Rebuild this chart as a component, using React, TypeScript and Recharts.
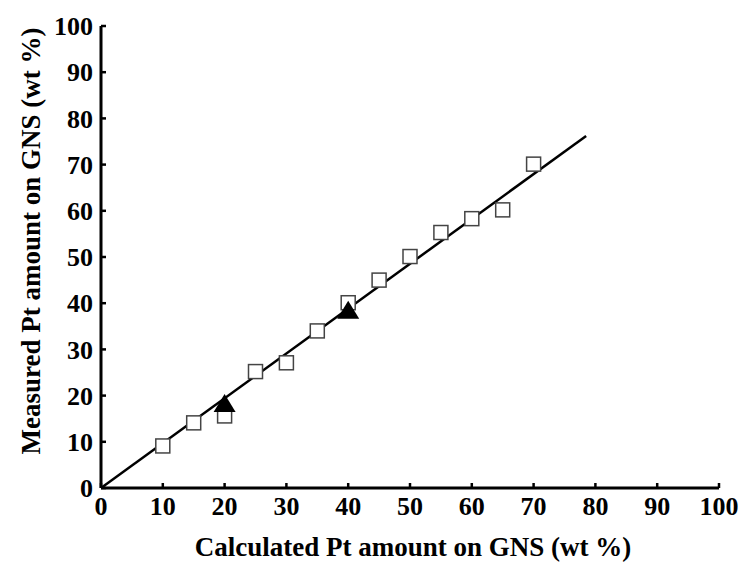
import React from 'react';
import { ScatterChart, Scatter, XAxis, YAxis, Label } from 'recharts';

const squareX = [10, 15, 20, 25, 30, 35, 40, 45, 50, 55, 60, 65, 70];
const squareY = [9.1, 14.1, 15.6, 25.2, 27.1, 34, 40.1, 45, 50.1, 55.3, 58.3, 60.2, 70.1];
const triangleX = [20, 40];
const triangleY = [18.4, 38.6];
const fitX = [0, 78.5];
const fitY = [0, 76.2];
const axisTicks = [0, 10, 20, 30, 40, 50, 60, 70, 80, 90, 100];

const squares = squareX.map((x, i) => ({ x, y: squareY[i] }));
const triangles = triangleX.map((x, i) => ({ x, y: triangleY[i] }));
const fitLine = fitX.map((x, i) => ({ x, y: fitY[i] }));

const FONT = '"Liberation Serif", "Times New Roman", serif';
const tickStyle = { fill: '#000', fontSize: 26, fontWeight: 'bold', fontFamily: FONT };
const axisLine = { stroke: '#000', strokeWidth: 3 };
const tickLine = { stroke: '#000', strokeWidth: 2.5 };

const SquareShape = (props: any) => {
    const { cx, cy } = props;
    return <rect x={cx - 7} y={cy - 7} width={14} height={14} fill="#fff" stroke="#444" strokeWidth={1.5} />;
};

const TriangleShape = (props: any) => {
    const { cx, cy } = props;
    return <polygon points={`${cx},${cy - 9} ${cx + 11},${cy + 9} ${cx - 11},${cy + 9}`} fill="#000" />;
};

const NoShape = () => <g />;

const App: React.FC = () => {
    return (
        <div style={{ position: 'absolute', left: 0, top: 0, width: 741, height: 562, background: '#fff' }}>
            <ScatterChart width={741} height={562} margin={{ top: 26, right: 22, left: 0, bottom: 0 }}>
                <XAxis
                    dataKey="x"
                    type="number"
                    domain={[0, 100]}
                    ticks={axisTicks}
                    interval={0}
                    height={74}
                    tickSize={-5}
                    tickMargin={14}
                    axisLine={axisLine}
                    tickLine={tickLine}
                    tick={tickStyle}
                >
                    <Label
                        content={(p: any) => {
                            const vb = p.viewBox;
                            return (
                                <text x={vb.x + vb.width / 2 + 3} y={556} textAnchor="middle" fontSize={27} fontWeight="bold" fontFamily={FONT} fill="#000">
                                    Calculated Pt amount on GNS (wt %)
                                </text>
                            );
                        }}
                    />
                </XAxis>
                <XAxis
                    xAxisId="top"
                    orientation="top"
                    type="number"
                    domain={[0, 100]}
                    ticks={axisTicks}
                    interval={0}
                    height={0}
                    tickSize={-5}
                    axisLine={axisLine}
                    tickLine={tickLine}
                    tickFormatter={() => ''}
                />
                <YAxis
                    dataKey="y"
                    type="number"
                    domain={[0, 100]}
                    ticks={axisTicks}
                    interval={0}
                    width={101}
                    tickSize={-5}
                    tickMargin={13}
                    axisLine={axisLine}
                    tickLine={tickLine}
                    tick={tickStyle}
                >
                    <Label
                        content={(p: any) => {
                            const vb = p.viewBox;
                            const cy = vb.y + vb.height / 2 - 16;
                            return (
                                <text x={40} y={cy} transform={`rotate(-90 40 ${cy})`} textAnchor="middle" fontSize={27} fontWeight="bold" fontFamily={FONT} fill="#000">
                                    Measured Pt amount on GNS (wt %)
                                </text>
                            );
                        }}
                    />
                </YAxis>
                <YAxis
                    yAxisId="right"
                    orientation="right"
                    type="number"
                    domain={[0, 100]}
                    width={0}
                    axisLine={axisLine}
                    tickLine={false}
                    tick={false}
                />
                <Scatter
                    data={fitLine}
                    line={{ stroke: '#000', strokeWidth: 2.5 }}
                    lineType="joint"
                    shape={NoShape}
                    isAnimationActive={false}
                />
                <Scatter data={squares} shape={SquareShape} isAnimationActive={false} />
                <Scatter data={triangles} shape={TriangleShape} isAnimationActive={false} />
            </ScatterChart>
        </div>
    );
};

export default App;
